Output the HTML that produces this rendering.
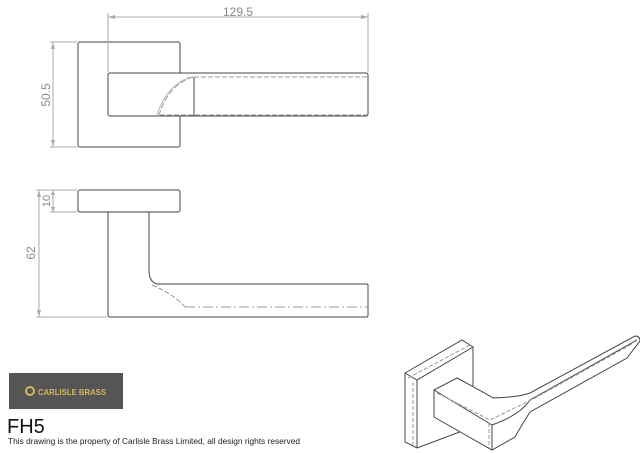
<!DOCTYPE html>
<html><head><style>
body{margin:0;background:#fff;width:640px;height:453px;overflow:hidden;font-family:"Liberation Sans",sans-serif}
</style></head><body>
<svg width="640" height="453" viewBox="0 0 640 453" xmlns="http://www.w3.org/2000/svg" style="position:absolute;left:0;top:0">
<g fill="none" stroke="#444" stroke-width="1">
<rect x="78" y="42" width="102" height="105" rx="2"/>
<rect x="108" y="73" width="260" height="43" rx="2" fill="#fff"/>
<line x1="194" y1="77" x2="194" y2="116"/>
<line x1="194" y1="77" x2="367" y2="77" stroke="#999" stroke-dasharray="5,2"/>
<line x1="160" y1="115" x2="367" y2="115" stroke="#999" stroke-dasharray="5,2"/>
<path d="M193 77 Q168 85 159 115" stroke="#999" stroke-dasharray="6,2"/>
<path d="M190 77 Q166 86 157 115" stroke="#bbb"/>
<g stroke="#aaa">
<line x1="108" y1="13" x2="108" y2="72"/><line x1="368" y1="13" x2="368" y2="72"/>
<line x1="108" y1="17" x2="368" y2="17"/>
<line x1="50" y1="42" x2="77" y2="42"/><line x1="50" y1="147" x2="77" y2="147"/>
<line x1="53" y1="42" x2="53" y2="147"/>
</g>
<rect x="78" y="190" width="102" height="22" rx="2"/>
<path d="M108 212 V315 Q108 317 110 317 H367 Q368 317 368 315 V285 Q368 284 366 284 H157 Q149 282 149 270 V212"/>
<path d="M152 285 Q175 295 185 307" stroke="#999" stroke-dasharray="5,2"/>
<line x1="185" y1="307" x2="367" y2="307" stroke="#999" stroke-dasharray="10,3,2,3"/>
<g stroke="#aaa">
<line x1="36" y1="190" x2="77" y2="190"/><line x1="50" y1="212" x2="77" y2="212"/>
<line x1="36" y1="317" x2="107" y2="317"/>
<line x1="39" y1="190" x2="39" y2="317"/>
<line x1="53" y1="190" x2="53" y2="212"/>
</g>
<path d="M405 373 L462 340 L473 347 L473 427 L417 448 L405 442 Z" fill="#fff"/>
<path d="M405 373 L417 380 L473 347 M417 380 L417 448"/>
<path d="M408 378 L470 345 M413 382 V445" stroke="#999" stroke-dasharray="4,2"/>
<path d="M434 390 L457 378 Q485 393 493 398 Q520 397 530 393 L635 336 Q640 336 640 341 L627 358 L530 412 Q520 428 515 437 L492 450 L434 417 Z" fill="#fff"/>
<path d="M434 390 L492 425 L492 450 M492 425 Q520 415 530 400 L637 340"/>
<path d="M437 393 L490 420 L535 398 L632 344 M489 423 V448" stroke="#999" stroke-dasharray="4,2"/>
</g>
<g fill="#aaa">
<path d="M108 17 l7 -2 v4z M368 17 l-7 -2 v4z M53 42 l-2 7 h4z M53 147 l-2 -7 h4z M39 190 l-2 7 h4z M39 317 l-2 -7 h4z M53 190 l-2 5 h4z M53 212 l-2 -5 h4z"/>
</g>
<g fill="#888" font-family="Liberation Sans,sans-serif" font-size="12">
<text x="238" y="16" text-anchor="middle">129.5</text>
<text transform="translate(50,95) rotate(-90)" text-anchor="middle">50.5</text>
<text transform="translate(35,253) rotate(-90)" text-anchor="middle">62</text>
<text transform="translate(50,201) rotate(-90)" text-anchor="middle" font-size="11">10</text>
</g>
<rect x="9" y="373" width="114" height="36" fill="#555"/>
<circle cx="30" cy="391" r="4" fill="none" stroke="#d6b65c" stroke-width="2"/>
<text x="38" y="395" fill="#d6b65c" font-size="8.5" font-weight="bold" textLength="68" lengthAdjust="spacingAndGlyphs">CARLISLE BRASS</text>
<text x="7" y="433" fill="#111" font-size="20">FH5</text>
<text x="8" y="444" fill="#222" font-size="8" textLength="292" lengthAdjust="spacingAndGlyphs">This drawing is the property of Carlisle Brass Limited, all design rights reserved</text>
</svg>
</body></html>
